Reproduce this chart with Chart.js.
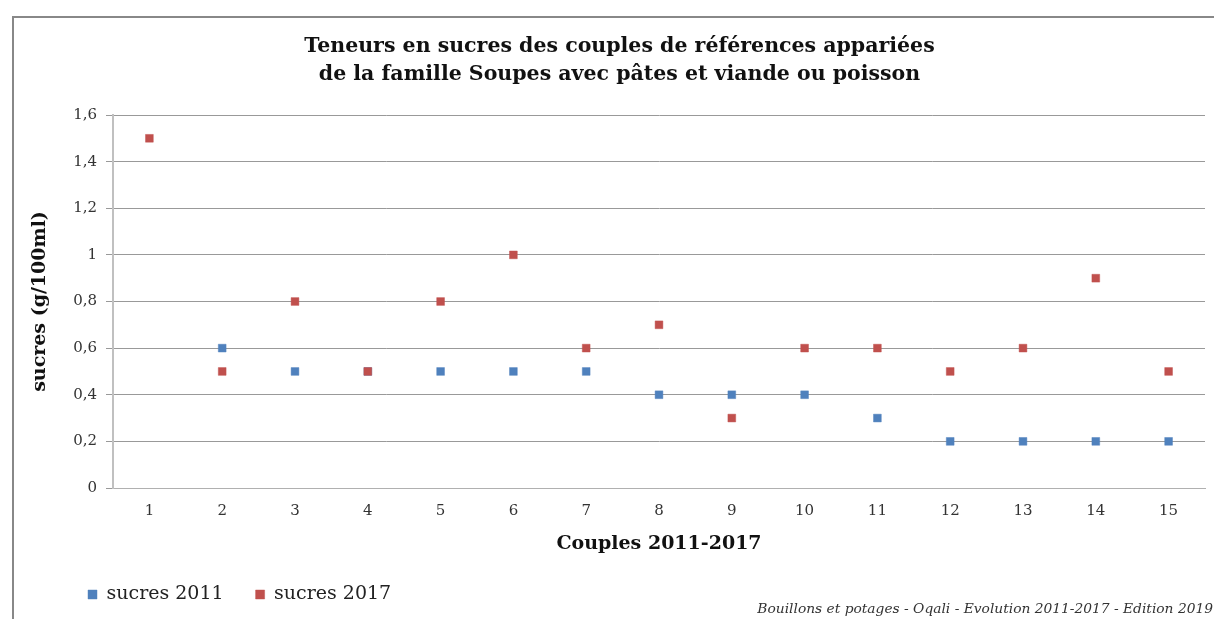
<!DOCTYPE html>
<html lang="fr">
<head>
    <meta charset="UTF-8">
    <title>Teneurs en sucres - Soupes avec pâtes et viande ou poisson</title>
    <script src="https://cdn.jsdelivr.net/npm/chart.js"></script>
    <style>
        html, body { margin: 0; padding: 0; background: #fff; }
        #wrap { width: 1214px; height: 619px; }
    </style>
</head>
<body>
    <div id="wrap"><canvas id="stats"></canvas></div>
    <script>
        const couples = ["1", "2", "3", "4", "5", "6", "7", "8", "9", "10", "11", "12", "13", "14", "15"];
        const sucres2011 = [null, 0.6, 0.5, 0.5, 0.5, 0.5, 0.5, 0.4, 0.4, 0.4, 0.3, 0.2, 0.2, 0.2, 0.2];
        const sucres2017 = [1.5, 0.5, 0.8, 0.5, 0.8, 1.0, 0.6, 0.7, 0.3, 0.6, 0.6, 0.5, 0.6, 0.9, 0.5];
        const yTickLabels = ["0", "0,2", "0,4", "0,6", "0,8", "1", "1,2", "1,4", "1,6"];
        const footerText = "Bouillons et potages - Oqali - Evolution 2011-2017 - Edition 2019";

        const serif = "'DejaVu Serif', serif";

        const ctx = document.getElementById("stats").getContext("2d");
        const statChart = new Chart(ctx, {
            type: "line",
            data: {
                labels: couples,
                datasets: [
                    {
                        label: "sucres 2011",
                        data: sucres2011,
                        order: 1, // drawn under the 2017 marks
                        showLine: false,
                        pointStyle: "rect",
                        pointRadius: 5.5,
                        pointHoverRadius: 6,
                        backgroundColor: "#4F81BD",
                        borderColor: "rgba(79, 129, 189, 0.45)",
                        borderWidth: 1
                    },
                    {
                        label: "sucres 2017",
                        data: sucres2017,
                        order: 0,
                        showLine: false,
                        pointStyle: "rect",
                        pointRadius: 5.5,
                        pointHoverRadius: 6,
                        backgroundColor: "#C0504D",
                        borderColor: "rgba(192, 80, 77, 0.45)",
                        borderWidth: 1
                    }
                ]
            },
            options: {
                responsive: true,
                maintainAspectRatio: false,
                animation: false,
                layout: {
                    padding: { top: 20, left: 20, right: 9, bottom: 5 }
                },
                scales: {
                    x: {
                        offset: true,
                        grid: { display: false, drawTicks: false },
                        border: { display: true, color: "#b0b0b0", width: 1 },
                        ticks: {
                            padding: 14,
                            color: "#333",
                            font: { family: serif, size: 15 },
                            maxRotation: 0
                        },
                        title: {
                            display: true,
                            text: "Couples 2011-2017",
                            color: "#111",
                            font: { family: serif, size: 19, weight: "bold" },
                            padding: { top: 0, bottom: -2 }
                        },
                        afterFit: (scale) => { scale.height = 65; }
                    },
                    y: {
                        min: 0,
                        max: 1.6,
                        grid: { color: "#999", lineWidth: 1, tickLength: 7 },
                        border: { display: true, color: "#c0c0c0", width: 2 },
                        ticks: {
                            stepSize: 0.2,
                            padding: 9,
                            color: "#333",
                            font: { family: serif, size: 15 },
                            callback: (value, index) => yTickLabels[index]
                        },
                        title: {
                            display: true,
                            text: "sucres (g/100ml)",
                            color: "#111",
                            font: { family: serif, size: 19, weight: "bold" },
                            padding: { top: 9, bottom: 0 }
                        },
                        afterFit: (scale) => { scale.width = 93; }
                    }
                },
                plugins: {
                    title: {
                        display: true,
                        text: ["Teneurs en sucres des couples de références appariées",
                               "de la famille Soupes avec pâtes et viande ou poisson"],
                        color: "#111",
                        font: { family: serif, size: 20.5, weight: "bold", lineHeight: 1.366 },
                        padding: { top: 13, bottom: 26 }
                    },
                    legend: {
                        position: "bottom",
                        align: "start",
                        labels: {
                            boxWidth: 9,
                            boxHeight: 9,
                            padding: 32,
                            color: "#222",
                            font: { family: serif, size: 19 },
                            sort: (a, b) => a.datasetIndex - b.datasetIndex
                        }
                    },
                    tooltip: { enabled: false }
                }
            },
            plugins: [{
                id: "excelFrame",
                afterLayout: (chart) => {
                    // nudge the title and legend to where the original sits
                    chart.titleBlock.left += 7;
                    chart.titleBlock.right += 7;
                    chart.legend.left += 36;
                    chart.legend.right += 36;
                },
                beforeDraw: (chart) => {
                    const c = chart.ctx;
                    c.save();
                    c.strokeStyle = "#888";
                    c.lineWidth = 2;
                    c.beginPath();
                    c.moveTo(13, chart.height + 5);
                    c.lineTo(13, 17);
                    c.lineTo(chart.width + 5, 17);
                    c.stroke();
                    c.restore();
                },
                afterDraw: (chart) => {
                    const c = chart.ctx;
                    c.save();
                    c.fillStyle = "#333";
                    c.font = "italic 13.8px 'DejaVu Serif', serif";
                    c.textAlign = "right";
                    c.textBaseline = "alphabetic";
                    c.fillText(footerText, chart.width - 1, chart.height - 6);
                    c.restore();
                }
            }]
        });
    </script>
</body>
</html>
